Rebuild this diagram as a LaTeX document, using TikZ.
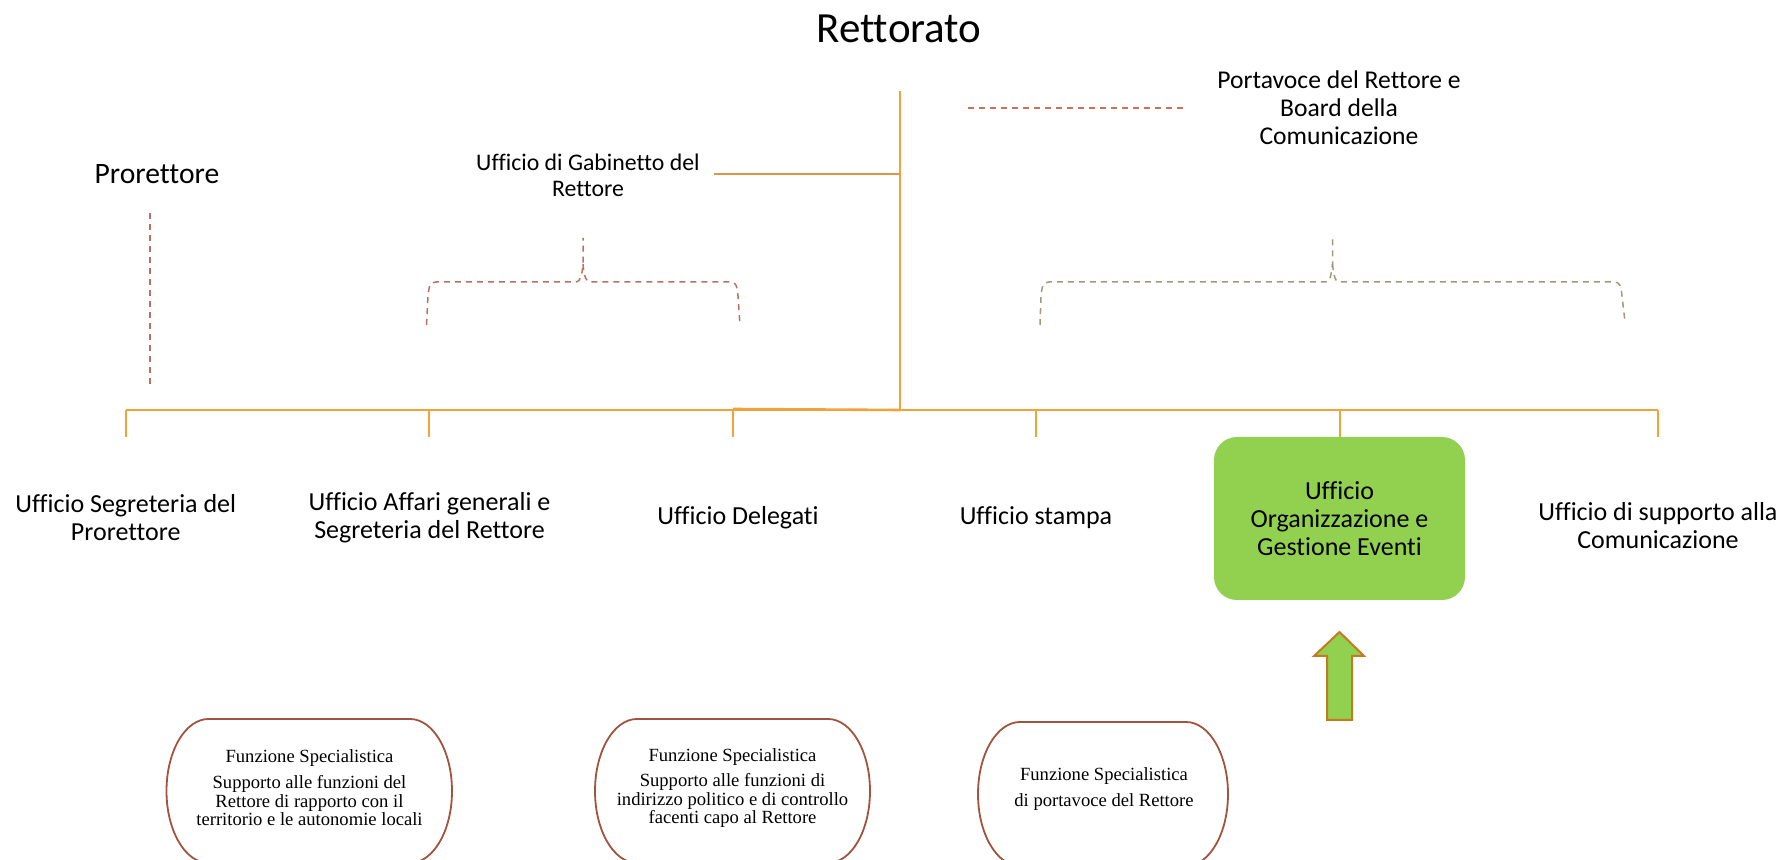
\documentclass[tikz,border=0pt]{standalone}
\usepackage{fontspec}
\setmainfont{Carlito}[Ligatures=NoCommon]
\newfontfamily\serifface{Liberation Serif}
\definecolor{orgline}{RGB}{242,162,58}
\definecolor{gabline}{RGB}{222,150,70}
\definecolor{dashbrown}{RGB}{184,112,100}
\definecolor{dasholive}{RGB}{162,152,122}
\definecolor{dashred}{RGB}{204,112,92}
\definecolor{ovalline}{RGB}{160,84,62}
\definecolor{evgreen}{RGB}{146,208,80}
\definecolor{arrowline}{RGB}{196,122,32}
\begin{document}
\begin{tikzpicture}[x=0.5pt,y=-0.5pt,
  lbl/.style={align=center,inner sep=0pt,font=\fontsize{13}{14}\selectfont},
  orgstroke/.style={draw=orgline,line width=1pt},
  dashstroke/.style={line width=0.75pt,dash pattern=on 3pt off 2.5pt},
  fntext/.style={align=center,inner sep=0pt,font=\serifface\fontsize{9.3}{9.3}\selectfont},
  ovalstroke/.style={draw=ovalline,line width=0.9pt}]
\useasboundingbox (0,0) rectangle (1784,860);
\clip (0,0) rectangle (1784,860);

% titles
\node[inner sep=0pt,font=\fontsize{21.5}{24}\selectfont] (rett) at (899,29) {Rettorato};
\node[inner sep=0pt,font=\fontsize{14.8}{17}\selectfont] (pro) at (157,174) {Prorettore};
\node[align=center,inner sep=0pt,font=\fontsize{11.9}{13}\selectfont] (gab) at (588,175) {Ufficio di Gabinetto del\\Rettore};
\node[align=center,inner sep=0pt,font=\fontsize{12.8}{14}\selectfont] (port) at (1339,108) {Portavoce del Rettore e\\Board della\\Comunicazione};

% main structure
\coordinate (vtop) at (900,91);
\coordinate (vbot) at (900,410);
\coordinate (gabend) at (713.5,174);
\draw[orgstroke] (vtop) -- (vbot);
\draw[draw=gabline,line width=1pt] (gabend) -- (gabend -| vtop);
\draw[draw=orgline,line width=1.3pt] (733,409) -- (vbot);

% offices
\node[lbl] (seg) at (125.7,518) {Ufficio Segreteria del\\Prorettore};
\node[lbl] (aff) at (429.5,518) {Ufficio Affari generali e\\Segreteria del Rettore};
\node[lbl] (del) at (738,518) {Ufficio Delegati};
\node[lbl] (sta) at (1036,518) {Ufficio stampa};
\node[lbl,fill=evgreen,rounded corners=11.5pt,minimum width=125.5pt,minimum height=81.5pt] (eve) at (1339.5,518.5) {Ufficio\\Organizzazione e\\Gestione Eventi};
\node[lbl] (sup) at (1658,526) {Ufficio di supporto alla\\Comunicazione};

\coordinate (barL) at (125.7,410);
\coordinate (barR) at (1658,410);
\draw[orgstroke] (barL) -- (barR);
\foreach \x/\n in {125.7/seg,429/aff,733/del,1036/sta,1658/sup}{
  \coordinate (tk\n) at (\x,410);
  \coordinate (tb\n) at (\x,437);
  \draw[orgstroke] (tk\n) -- (tb\n);
}
\coordinate (tkeve) at (1339.5,410);
\draw[orgstroke] (tkeve) -- (eve.north);

% dashed lines
\coordinate (pd1) at (150,213);
\coordinate (pd2) at (150,384);
\draw[dashstroke,draw=dashbrown] (pd1) -- (pd2);
\coordinate (rd1) at (968,108);
\coordinate (rd2) at (1187,108);
\draw[dashstroke,draw=dashred] (rd1) -- (rd2);

% brace 1
\draw[dashstroke,draw=dashbrown] (426.5,325) -- (428,296) .. controls (429,286) and (430,282) .. (436,282) -- (576,282) .. controls (580,282) and (582,276) .. (583,264) -- (583,238);
\draw[dashstroke,draw=dashbrown] (583,264) .. controls (584,276) and (586,282) .. (590,282) -- (731,282) .. controls (736,282) and (737,286) .. (738,296) -- (740,325);

% brace 2
\draw[dashstroke,draw=dasholive] (1040,325) -- (1041,296) .. controls (1042,286) and (1043,282) .. (1049,282) -- (1326,282) .. controls (1330,282) and (1331,276) .. (1332.5,264) -- (1332.5,238);
\draw[dashstroke,draw=dasholive] (1332.5,264) .. controls (1334,276) and (1335,282) .. (1339,282) -- (1614,282) .. controls (1620,282) and (1621,286) .. (1622,296) -- (1625,322);

% arrow
\draw[fill=evgreen,draw=arrowline,line width=1pt,line join=miter]
  (1339.5,632) -- (1364,656) -- (1352,656) -- (1352,720) -- (1327,720) -- (1327,656) -- (1314,656) -- cycle;

% function ovals
\draw[ovalstroke] (208.5,719) -- (410,719) arc[start angle=90,end angle=-90,x radius=21pt,y radius=36pt] -- (208.5,863) arc[start angle=270,end angle=90,x radius=21pt,y radius=36pt] -- cycle;
\draw[ovalstroke] (637,719) -- (828,719) arc[start angle=90,end angle=-90,x radius=21pt,y radius=36pt] -- (637,863) arc[start angle=270,end angle=90,x radius=21pt,y radius=36pt] -- cycle;
\draw[ovalstroke] (1020,722) -- (1186,722) arc[start angle=90,end angle=-90,x radius=21pt,y radius=36pt] -- (1020,866) arc[start angle=270,end angle=90,x radius=21pt,y radius=36pt] -- cycle;

\node[fntext] (f1) at (309.5,788) {Funzione Specialistica\\[3.5pt]Supporto alle funzioni del\\Rettore di rapporto con il\\territorio e le autonomie locali};
\node[fntext] (f2) at (732.5,788) {Funzione Specialistica\\[3.5pt]Supporto alle funzioni di\\indirizzo politico e di controllo\\facenti capo al Rettore};
\node[fntext] (f3) at (1104,789) {Funzione Specialistica\\[3.5pt]di portavoce del Rettore};
\end{tikzpicture}
\end{document}
